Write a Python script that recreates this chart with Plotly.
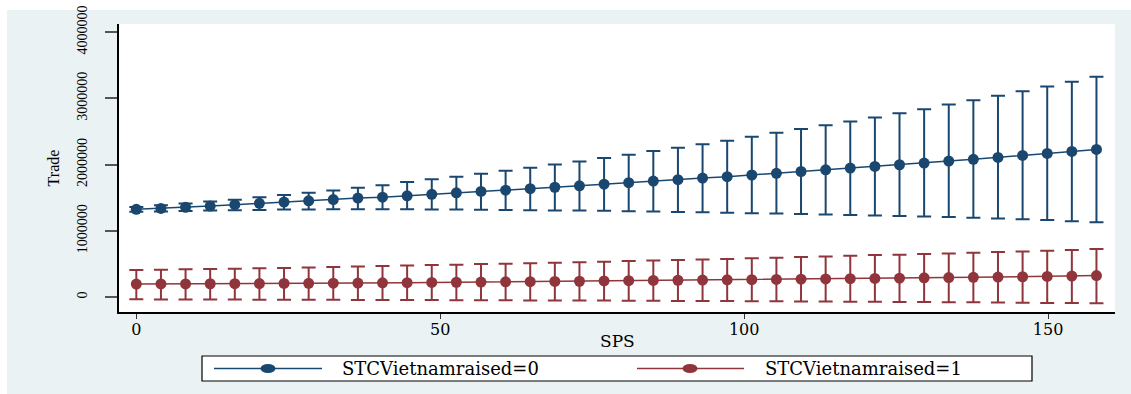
import plotly.graph_objects as go

# ---------------- data ----------------
sps = [0, 4.05, 8.10, 12.15, 16.20, 20.25, 24.30, 28.35, 32.40, 36.45,
       40.50, 44.55, 48.60, 52.65, 56.70, 60.75, 64.80, 68.85, 72.90, 76.95,
       81.00, 85.05, 89.10, 93.15, 97.20, 101.25, 105.30, 109.35, 113.40, 117.45,
       121.50, 125.55, 129.60, 133.65, 137.70, 141.75, 145.80, 149.85, 153.90, 157.95]

trade0 = [1324000, 1338000, 1356000, 1373000, 1394000, 1415000, 1434000, 1453000, 1471000, 1494000,
          1508000, 1528000, 1551000, 1574000, 1594000, 1614000, 1637000, 1658000, 1680000, 1705000,
          1727000, 1751000, 1772000, 1797000, 1818000, 1843000, 1868000, 1896000, 1921000, 1947000,
          1972000, 1998000, 2024000, 2053000, 2079000, 2108000, 2138000, 2168000, 2199000, 2229000]
upper0 = [1360000, 1386000, 1414000, 1441000, 1470000, 1505000, 1540000, 1574000, 1610000, 1650000,
          1690000, 1736000, 1777000, 1816000, 1861000, 1907000, 1952000, 2003000, 2048000, 2098000,
          2148000, 2204000, 2254000, 2309000, 2360000, 2420000, 2480000, 2536000, 2596000, 2652000,
          2712000, 2777000, 2838000, 2908000, 2974000, 3039000, 3109000, 3180000, 3250000, 3326000]
lower0 = [1288000, 1292000, 1298000, 1305000, 1311000, 1316000, 1320000, 1322000, 1324000, 1324000,
          1324000, 1324000, 1323000, 1320000, 1318000, 1314000, 1311000, 1308000, 1305000, 1302000,
          1295000, 1290000, 1285000, 1279000, 1273000, 1267000, 1260000, 1253000, 1247000, 1240000,
          1232000, 1225000, 1216000, 1207000, 1197000, 1187000, 1175000, 1162000, 1146000, 1130000]

trade1 = [196000, 197000, 198000, 200000, 201000, 203000, 205000, 207000, 209000, 211000,
          214000, 217000, 220000, 223000, 226000, 229000, 232000, 235000, 238000, 243000,
          246000, 250000, 253000, 256000, 259000, 262000, 266000, 269000, 273000, 277000,
          281000, 285000, 289000, 293000, 297000, 301000, 306000, 311000, 316000, 323000]
upper1 = [408000, 413000, 418000, 423000, 428000, 433000, 438000, 446000, 453000, 461000,
          468000, 476000, 483000, 489000, 497000, 503000, 509000, 517000, 524000, 533000,
          543000, 551000, 558000, 567000, 575000, 584000, 594000, 603000, 613000, 623000,
          633000, 640000, 649000, 659000, 669000, 679000, 689000, 699000, 709000, 725000]
lower1 = [-35000, -36000, -37000, -38000, -39000, -40000, -41000, -42000, -43000, -44000,
          -45000, -46000, -47000, -48000, -49000, -50000, -51000, -52000, -53000, -54000,
          -55000, -57000, -59000, -60000, -62000, -64000, -65000, -67000, -69000, -70000,
          -72000, -74000, -76000, -78000, -80000, -83000, -86000, -89000, -92000, -96000]

series_names = ["STCVietnamraised=0", "STCVietnamraised=1"]
y_ticks = [0, 1000000, 2000000, 3000000, 4000000]
y_tick_text = ["0", "1000000", "2000000", "3000000", "4000000"]
grid_ticks = [0, 1000000, 2000000, 3000000]
x_ticks = [0, 50, 100, 150]

# ---------------- styling ----------------
NAVY = "#1a476f"
MAROON = "#90353b"
BG = "#eaf2f3"
W, H = 1131, 394
L, R, T, B = 119, 1115, 24, 312   # plot area in pixels


def px_x(p):
    return (p - L) / (R - L)


def px_y(p):
    return (B - p) / (B - T)


fig = go.Figure()

for name, m, up, lo, col in [
    (series_names[0], trade0, upper0, lower0, NAVY),
    (series_names[1], trade1, upper1, lower1, MAROON),
]:
    fig.add_trace(go.Scatter(
        x=sps, y=m, name=name, mode="lines+markers",
        line=dict(color=col, width=1.5),
        marker=dict(symbol="circle", size=11, color=col),
        error_y=dict(type="data", symmetric=False,
                     array=[u - v for u, v in zip(up, m)],
                     arrayminus=[v - d for v, d in zip(m, lo)],
                     color=col, thickness=2, width=7),
        showlegend=False,
    ))

serif = "Liberation Serif"
wide = "DejaVu Serif"

shapes = [
    # outer graph-region background
    dict(type="rect", xref="paper", yref="paper", x0=px_x(7), x1=px_x(W), y0=px_y(H), y1=px_y(10),
         fillcolor=BG, line=dict(width=0), layer="below"),
    # white plot region
    dict(type="rect", xref="paper", yref="paper", x0=0, x1=1, y0=0, y1=1,
         fillcolor="white", line=dict(width=0), layer="below"),
    # legend box
    dict(type="rect", xref="paper", yref="paper", x0=px_x(202), x1=px_x(1032), y0=px_y(381), y1=px_y(356),
         fillcolor="white", line=dict(color="black", width=1.2)),
]
annotations = [
    dict(text="SPS", xref="paper", yref="paper", x=0.5, y=px_y(341), xanchor="center", yanchor="middle",
         showarrow=False, font=dict(family=wide, size=17, color="black")),
]
ly = 368.5
for (lx0, lx1, mx, tx, col, name) in [
    (214, 322, 268, 340, NAVY, series_names[0]),
    (637, 744, 690, 763, MAROON, series_names[1]),
]:
    shapes.append(dict(type="line", xref="paper", yref="paper", x0=px_x(lx0), x1=px_x(lx1),
                       y0=px_y(ly), y1=px_y(ly), line=dict(color=col, width=1.5)))
    shapes.append(dict(type="circle", xref="paper", yref="paper", xsizemode="pixel", ysizemode="pixel",
                       xanchor=px_x(mx), yanchor=px_y(ly), x0=-7.5, x1=7.5, y0=-4.5, y1=4.5,
                       fillcolor=col, line=dict(color=col, width=0)))
    annotations.append(dict(text=name, xref="paper", yref="paper", x=px_x(tx), y=px_y(ly),
                            xanchor="left", yanchor="middle", showarrow=False,
                            font=dict(family=wide, size=18, color="black")))

fig.update_layout(
    width=W, height=H,
    margin=dict(l=L, r=W - R, t=T, b=H - B, autoexpand=False),
    paper_bgcolor="white", plot_bgcolor="white",
    shapes=shapes, annotations=annotations,
    xaxis=dict(range=[-2.85, 161.0], tickvals=x_ticks, ticks="outside", ticklen=5, tickwidth=1,
               tickcolor="#333333", showgrid=False, zeroline=False,
               showline=True, linecolor="black", linewidth=2, ticklabelstandoff=-3,
               tickfont=dict(family=wide, size=16, color="black")),
    yaxis=dict(range=[-226600, 4124000], tickvals=y_ticks, ticktext=y_tick_text, tickangle=-90,
               ticks="outside", ticklen=12, tickwidth=1.5, tickcolor="#555555",
               showgrid=False, zeroline=False, showline=True, linecolor="black", linewidth=2,
               ticklabelstandoff=12,
               tickfont=dict(family=serif, size=14, color="black"),
               title=dict(text="Trade", font=dict(family=serif, size=16, color="black"), standoff=12)),
    yaxis2=dict(range=[-226600, 4124000], overlaying="y", anchor="x", side="left",
                tickvals=grid_ticks, showticklabels=False, ticks="", showgrid=True,
                gridcolor=BG, gridwidth=1.2, zeroline=False, showline=False),
)

fig.write_html("out.html")
